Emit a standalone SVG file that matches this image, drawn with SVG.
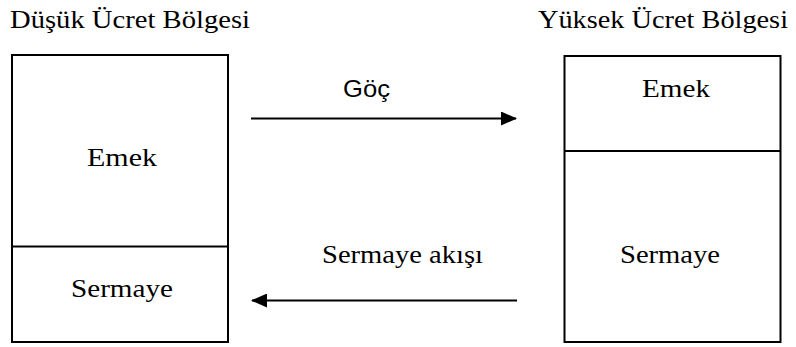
<svg xmlns="http://www.w3.org/2000/svg" width="796" height="347" viewBox="0 0 796 347">
<style>
.box{fill:none;stroke:#000;stroke-width:2}
.t{font-family:"Liberation Serif","Times New Roman",serif;font-size:26px;fill:#000}
.s{font-family:"Liberation Sans",Arial,sans-serif;font-size:24px;fill:#000}
.c{stroke:#000;stroke-width:2;fill:none}
</style>
<defs>
<marker id="ah" markerWidth="16" markerHeight="14" refX="15" refY="7" orient="auto" markerUnits="userSpaceOnUse">
<path d="M0,0 L16,7 L0,14 Z" fill="#000"/>
</marker>
</defs>
<rect width="796" height="347" fill="#fff"/>
<g id="title-left"><text class="t" x="10" y="28" textLength="240" lengthAdjust="spacingAndGlyphs">Düşük Ücret Bölgesi</text></g>
<g id="title-right"><text class="t" x="538" y="28" textLength="250" lengthAdjust="spacingAndGlyphs">Yüksek Ücret Bölgesi</text></g>
<g id="low-region">
<rect class="box" x="12" y="55" width="216" height="287"/>
<line class="box" x1="12" y1="246.5" x2="228" y2="246.5"/>
<text class="t" x="122" y="166" text-anchor="middle" textLength="70" lengthAdjust="spacingAndGlyphs">Emek</text>
<text class="t" x="122" y="297" text-anchor="middle" textLength="102" lengthAdjust="spacingAndGlyphs">Sermaye</text>
</g>
<g id="high-region">
<rect class="box" x="564.5" y="56" width="216" height="286"/>
<line class="box" x1="564.5" y1="151" x2="780.5" y2="151"/>
<text class="t" x="676" y="97" text-anchor="middle" textLength="68" lengthAdjust="spacingAndGlyphs">Emek</text>
<text class="t" x="670" y="263" text-anchor="middle" textLength="100" lengthAdjust="spacingAndGlyphs">Sermaye</text>
</g>
<g id="connectors">
<line class="c" x1="251" y1="118.5" x2="516" y2="118.5" marker-end="url(#ah)"/>
<line class="c" x1="517" y1="300.5" x2="252" y2="300.5" marker-end="url(#ah)"/>
<text class="s" x="343" y="97" textLength="47" lengthAdjust="spacingAndGlyphs">Göç</text>
<text class="t" x="322" y="263" textLength="161" lengthAdjust="spacingAndGlyphs">Sermaye akışı</text>
</g>
</svg>
